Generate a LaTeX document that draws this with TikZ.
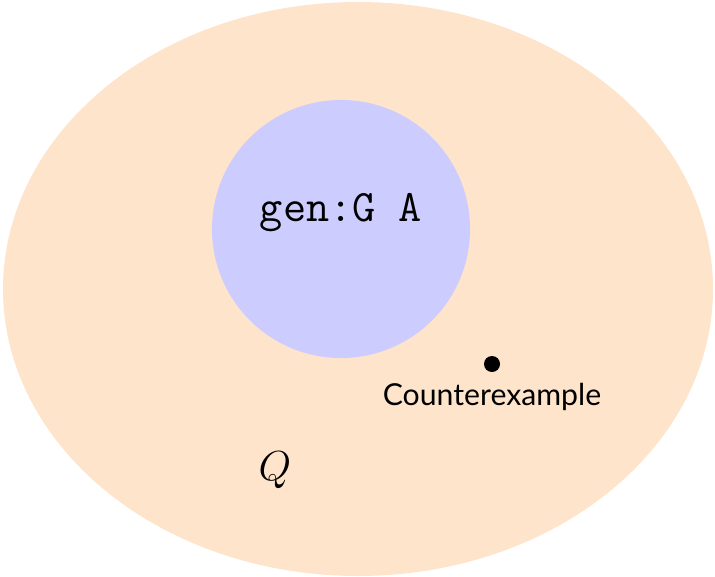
\documentclass[tikz,border=0pt]{standalone}
\usepackage{fontspec}
\usetikzlibrary{positioning}
\newfontfamily\labelfont{Lato}
\definecolor{peach}{RGB}{255,228,204}
\definecolor{lavender}{RGB}{204,204,255}
\begin{document}
\begin{tikzpicture}[x=0.025cm, y=-0.025cm,
          region/.style={draw=none, inner sep=0pt},
          pt/.style={circle, fill=black, minimum size=0.4cm, inner sep=0pt}]
        \useasboundingbox (0,0) rectangle (715,577);
        \fill[peach] (358,289) ellipse [x radius=355, y radius=287];
        \node[region, circle, fill=lavender, minimum size=6.45cm] (gen) at (341,229) {};
        \node[font=\ttfamily\fontsize{32}{38}\selectfont] (genlabel) at (341,213) {gen:G A};
        \node[pt] (cex) at (492,364) {};
        \node[font=\labelfont\fontsize{21.5}{26}\selectfont, below=0.15cm of cex] (cexlabel) {Counterexample};
        \node[font=\Huge, scale=1.2] (qlabel) at (275,470) {$Q$};
      \end{tikzpicture}
\end{document}
